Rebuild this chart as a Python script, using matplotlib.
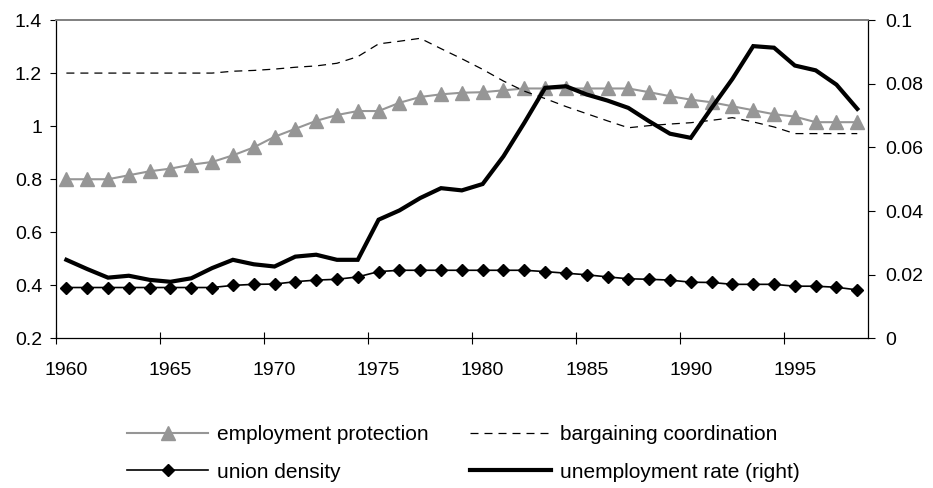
import matplotlib
matplotlib.use("Agg")
import matplotlib.pyplot as plt
from matplotlib.ticker import FuncFormatter, FixedLocator

plt.rcParams['font.family'] = ['Liberation Sans', 'DejaVu Sans']

years = list(range(1960, 1999))

employment_protection = [0.80, 0.80, 0.80, 0.815, 0.83, 0.84, 0.855, 0.865, 0.89, 0.92,
                         0.96, 0.99, 1.02, 1.042, 1.057, 1.057, 1.088, 1.11, 1.12, 1.126,
                         1.128, 1.135, 1.142, 1.142, 1.142, 1.142, 1.142, 1.142, 1.128, 1.113,
                         1.10, 1.09, 1.075, 1.06, 1.045, 1.036, 1.015, 1.015, 1.015]

bargaining_coordination = [1.20, 1.20, 1.20, 1.20, 1.20, 1.20, 1.20, 1.20, 1.207, 1.21,
                           1.215, 1.222, 1.227, 1.237, 1.262, 1.31, 1.32, 1.331, 1.292, 1.254,
                           1.214, 1.17, 1.132, 1.104, 1.074, 1.047, 1.02, 0.994, 1.002, 1.008,
                           1.013, 1.022, 1.032, 1.016, 0.997, 0.972, 0.972, 0.972, 0.972]

union_density = [0.392, 0.392, 0.392, 0.392, 0.392, 0.392, 0.392, 0.392, 0.40, 0.404,
                 0.405, 0.414, 0.42, 0.423, 0.432, 0.452, 0.457, 0.457, 0.457, 0.457,
                 0.457, 0.457, 0.457, 0.452, 0.446, 0.44, 0.432, 0.425, 0.423, 0.42,
                 0.412, 0.411, 0.404, 0.404, 0.404, 0.397, 0.397, 0.393, 0.383]

unemployment_rate = [0.0247, 0.0218, 0.0191, 0.0197, 0.0184, 0.0178, 0.0189, 0.0221, 0.0247, 0.0233,
                     0.0226, 0.0257, 0.0263, 0.0247, 0.0247, 0.0373, 0.0402, 0.0441, 0.0472, 0.0465,
                     0.0485, 0.0572, 0.0677, 0.0787, 0.0792, 0.0766, 0.0747, 0.0724, 0.0682, 0.0643,
                     0.0630, 0.0724, 0.0815, 0.0918, 0.0913, 0.0857, 0.0842, 0.0797, 0.0721]

year_labels = ['1960', '1965', '1970', '1975', '1980', '1985', '1990', '1995']
left_ticks = [0.2, 0.4, 0.6, 0.8, 1.0, 1.2, 1.4]
right_ticks = [0, 0.02, 0.04, 0.06, 0.08, 0.1]

fig = plt.figure(figsize=(9.33, 4.88), dpi=100)
ax = fig.add_axes([0.060, 0.3064, 0.870, 0.6526])
ax2 = ax.twinx()

gray = '#969696'
l_ep, = ax.plot(years, employment_protection, color=gray, lw=1.5, marker='^', ms=9.5,
                mfc=gray, mec=gray, label='employment protection')
l_bc, = ax.plot(years, bargaining_coordination, color='black', lw=0.9,
                linestyle=(0, (6.4, 4.8)), label='bargaining coordination')
l_ud, = ax.plot(years, union_density, color='black', lw=1.2, marker='D', ms=6.5,
                mfc='black', mec='black', label='union density')
l_ur, = ax2.plot(years, unemployment_rate, color='black', lw=3.0,
                 solid_joinstyle='miter', label='unemployment rate (right)')

ax.set_xlim(1959.5, 1998.5)
ax.set_ylim(0.2, 1.4)
ax2.set_ylim(0, 0.1)

fmt = FuncFormatter(lambda v, p: '%g' % round(v, 4))
ax.yaxis.set_major_locator(FixedLocator(left_ticks))
ax.yaxis.set_major_formatter(fmt)
ax2.yaxis.set_major_locator(FixedLocator(right_ticks))
ax2.yaxis.set_major_formatter(fmt)

label_years = [int(s) for s in year_labels]
ax.xaxis.set_major_locator(FixedLocator([y - 0.5 for y in label_years]))
ax.xaxis.set_major_formatter(FuncFormatter(lambda v, p: ''))
ax.xaxis.set_minor_locator(FixedLocator(label_years))
ax.set_xticklabels(year_labels, minor=True)

ax.tick_params(axis='x', which='major', direction='inout', length=9, width=0.8, color='black')
ax.tick_params(axis='x', which='minor', length=0, pad=17, labelsize=14)
ax.tick_params(axis='y', direction='out', length=4, width=0.8, pad=6, labelsize=14)
ax2.tick_params(axis='y', direction='out', length=5, width=0.8, pad=8, labelsize=14)

for a in (ax, ax2):
    a.spines['top'].set_color('#808080')
    a.spines['top'].set_linewidth(1.2)
    for s in ('left', 'right', 'bottom'):
        a.spines[s].set_color('black')
        a.spines[s].set_linewidth(0.9)
ax.spines['right'].set_visible(False)
ax2.spines['left'].set_visible(False)
ax2.spines['bottom'].set_visible(False)

ax.set_zorder(1)
ax2.set_zorder(2)
ax2.patch.set_visible(False)

leg_kw = dict(loc='center left', frameon=False, fontsize=15, handlelength=3.9,
              handletextpad=0.4, labelspacing=0.88, borderaxespad=0, borderpad=0)
ymid = 1 - 453.5 / 488
fig.legend([l_ep, l_ud], ['employment protection', 'union density'],
           bbox_to_anchor=(127 / 933, ymid), **leg_kw)
fig.legend([l_bc, l_ur], ['bargaining coordination', 'unemployment rate (right)'],
           bbox_to_anchor=(470 / 933, ymid), **leg_kw)

fig.savefig('out.png', dpi=100)
